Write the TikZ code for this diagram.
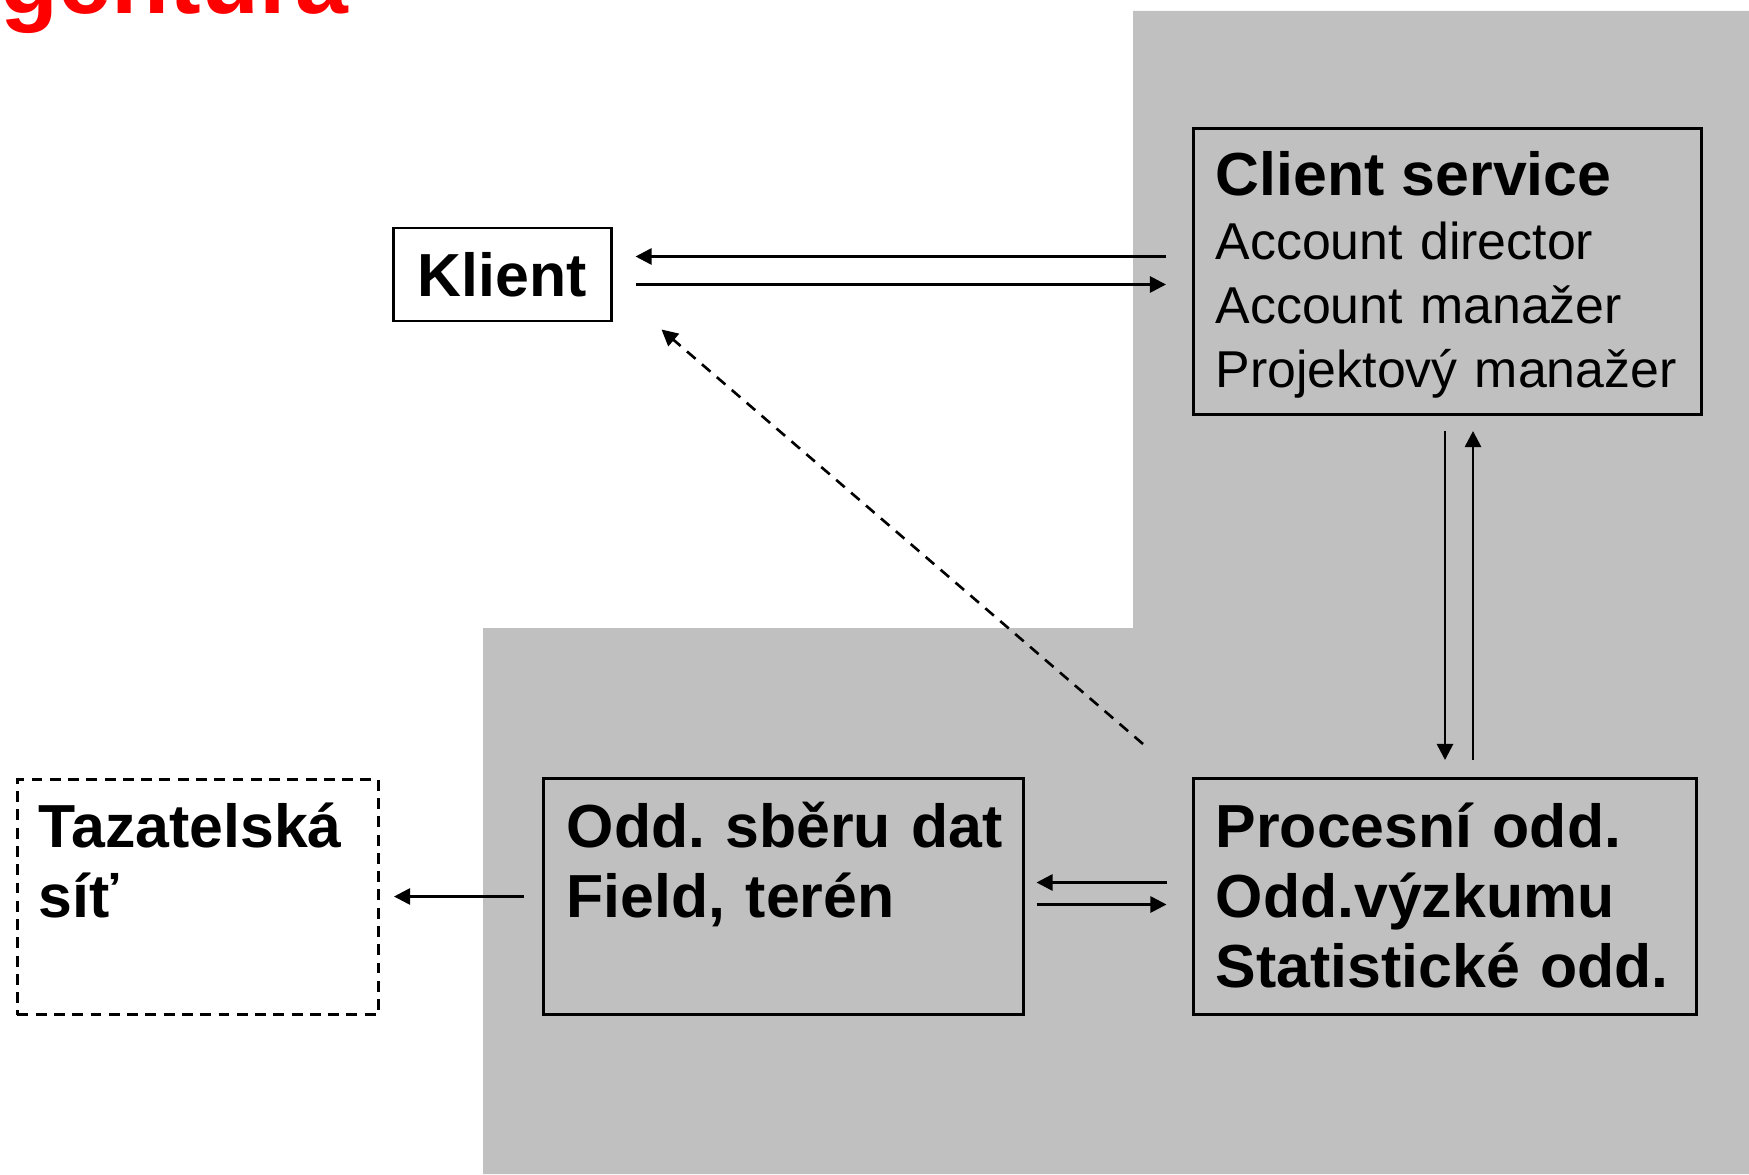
\documentclass[tikz,border=0pt]{standalone}
\usepackage{fontspec}
\setmainfont{Liberation Sans}
\usepackage{xcolor}
\usetikzlibrary{positioning,arrows.meta}
\definecolor{panelgray}{HTML}{C0C0C0}
\definecolor{titlered}{HTML}{FF0000}

\begin{document}
\frenchspacing
\begin{tikzpicture}[x=0.1mm, y=-0.1mm, >={Triangle[length=4.6pt,width=4.6pt]},
        box/.style={draw, line width=0.85pt, inner sep=0pt, anchor=north west},
        dept text/.style={font=\fontsize{17.3}{19.92}\selectfont\bfseries, align=left,
            text width=60mm, inner sep=0pt, anchor=base west},
        staff text/.style={font=\fontsize{14.75}{18.15}\selectfont, align=left,
            text width=60mm, inner sep=0pt, anchor=base west},
        flow/.style={->, line width=0.75pt},
        back flow/.style={->, line width=0.75pt, dash pattern=on 3.2pt off 2.4pt}]
    \useasboundingbox (0,0) rectangle (1749,1174);
    \clip (0,0) rectangle (1749,1174);

    % grey area of the agency
    \fill[panelgray] (1133,11) -- (1749,11) -- (1749,1174) -- (483,1174)
        -- (483,628) -- (1133,628) -- cycle;

    \node[anchor=base west, inner sep=0pt, text=titlered,
        font=\fontsize{27}{30}\selectfont\bfseries] (title) at (0,14) {gentura};

    % boxes
    \node[box, fill=white, minimum width=21.8mm, minimum height=9.3mm,
        anchor=center, font=\fontsize{17.3}{19.92}\selectfont\bfseries] (klient) at (502,274.5) {Klient};
    \node[box, minimum width=50.8mm, minimum height=28.6mm] (cs) at (1192,127) {};
    \node[box, minimum width=50.3mm, minimum height=23.6mm] (proc) at (1192,777) {};
    \node[box, minimum width=48mm, minimum height=23.6mm] (odd) at (542,777) {};
    \node[box, dash pattern=on 3.1pt off 2.1pt, fill=white, minimum width=36.1mm,
        minimum height=23.5mm] (taz) at (16,778) {};

    % texts in the boxes
    \node[staff text] (cs text) at ([shift={(23,69)}]cs.north west)
        {{\fontsize{17.3}{18.15}\selectfont\bfseries Client service}\\
         Account director\\Account manažer\\Projektový manažer};
    \node[dept text] (proc text) at ([shift={(23,70)}]proc.north west)
        {Procesní odd.\\Odd.výzkumu\\Statistické odd.};
    \node[dept text] (odd text) at ([shift={(24,70)}]odd.north west)
        {Odd. sběru dat\\Field, terén};
    \node[dept text] (taz text) at ([shift={(22,69)}]taz.north west)
        {Tazatelská\\síť};

    % connectors
    \coordinate (cs in) at ([yshift=1.5mm]cs.west);
    \coordinate (cs out) at ([yshift=-1.3mm]cs.west);
    \draw[flow, shorten <=2.6mm, shorten >=2.3mm] (cs in) -- (cs in -| klient.east);
    \draw[flow, shorten <=2.3mm, shorten >=2.6mm] (cs out -| klient.east) -- (cs out);

    \coordinate (proc up) at ([xshift=2.8mm]proc.north);
    \draw[flow, shorten <=1.5mm, shorten >=1.7mm] (cs.south -| proc.north) -- (proc.north);
    \draw[flow, shorten <=1.7mm, shorten >=1.5mm] (proc up) -- (proc up |- cs.south);

    \coordinate (proc in) at ([yshift=1.4mm]proc.west);
    \coordinate (proc out) at ([yshift=-0.8mm]proc.west);
    \draw[flow, shorten <=2.55mm, shorten >=1.15mm] (proc in) -- (proc in -| odd.east);
    \draw[flow, shorten <=1.15mm, shorten >=2.55mm] (proc out -| odd.east) -- (proc out);

    \draw[flow, shorten <=1.85mm, shorten >=1.4mm] (odd.west) -- (odd.west -| taz.east);

    \coordinate (fb) at (1143,744);
    \draw[back flow] (fb) -- ([shift={(49,7)}]klient.south east);
\end{tikzpicture}
\end{document}
